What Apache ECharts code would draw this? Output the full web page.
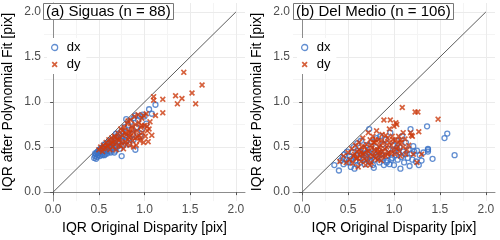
<!DOCTYPE html>
<html><head><meta charset="utf-8">
<script src="https://cdn.jsdelivr.net/npm/echarts@6/dist/echarts.min.js"></script>
<style>html,body{margin:0;padding:0;background:#fff}#c{width:500px;height:240px}</style>
</head><body><div id="c"></div>
<script>
const tickValues = [0, 0.5, 1.0, 1.5, 2.0];
const minorValues = [0.25, 0.75, 1.25, 1.75];
const panelTitles = ['(a) Siguas (n = 88)', '(b) Del Medio (n = 106)'];
const seriesNames = ['dx', 'dy'];
const diagonal = [[0, 0], [2, 2]];

const siguasDx = [[0.45,0.38],[0.46,0.40],[0.47,0.42],[0.48,0.39],[0.48,0.44],[0.49,0.41],[0.50,0.43],[0.50,0.46],[0.51,0.40],[0.52,0.44],[0.52,0.48],[0.53,0.42],[0.54,0.46],[0.55,0.44],[0.55,0.50],[0.56,0.41],[0.57,0.47],[0.58,0.45],[0.58,0.52],[0.59,0.43],[0.60,0.48],[0.60,0.55],[0.61,0.46],[0.62,0.50],[0.63,0.44],[0.63,0.57],[0.64,0.52],[0.65,0.48],[0.66,0.55],[0.67,0.60],[0.68,0.46],[0.68,0.52],[0.69,0.58],[0.70,0.50],[0.70,0.62],[0.72,0.55],[0.72,0.65],[0.73,0.48],[0.74,0.60],[0.75,0.40],[0.75,0.68],[0.76,0.57],[0.77,0.52],[0.78,0.72],[0.79,0.63],[0.80,0.81],[0.80,0.56],[0.81,0.66],[0.82,0.74],[0.83,0.53],[0.84,0.60],[0.85,0.78],[0.86,0.70],[0.87,0.64],[0.88,0.58],[0.88,0.82],[0.90,0.47],[0.90,0.85],[0.91,0.72],[0.92,0.66],[0.93,0.80],[0.95,0.84],[0.96,0.62],[0.97,0.70],[0.98,0.86],[1.00,0.84],[1.02,0.76],[1.05,0.92],[1.08,0.87],[1.12,0.97],[0.46,0.43],[0.47,0.37],[0.49,0.45],[0.51,0.47],[0.53,0.49],[0.54,0.41],[0.56,0.53],[0.57,0.42],[0.59,0.50],[0.61,0.53],[0.62,0.45],[0.64,0.58],[0.66,0.50],[0.67,0.44],[0.71,0.56],[0.74,0.52],[0.69,0.65],[0.77,0.62]];
const siguasDy = [[0.50,0.47],[0.52,0.50],[0.54,0.45],[0.55,0.52],[0.57,0.49],[0.58,0.55],[0.60,0.51],[0.61,0.58],[0.62,0.47],[0.63,0.54],[0.64,0.60],[0.65,0.50],[0.66,0.56],[0.67,0.62],[0.68,0.53],[0.69,0.47],[0.70,0.58],[0.71,0.65],[0.72,0.52],[0.73,0.60],[0.74,0.70],[0.75,0.55],[0.76,0.63],[0.77,0.48],[0.78,0.72],[0.79,0.56],[0.80,0.53],[0.80,0.64],[0.81,0.76],[0.82,0.58],[0.83,0.68],[0.84,0.52],[0.85,0.62],[0.85,0.80],[0.86,0.73],[0.87,0.57],[0.88,0.66],[0.89,0.84],[0.90,0.60],[0.90,0.75],[0.91,0.52],[0.92,0.68],[0.93,0.86],[0.94,0.63],[0.95,0.57],[0.96,0.72],[0.97,0.82],[0.98,0.66],[0.99,0.55],[1.00,0.74],[1.01,0.62],[1.02,0.87],[1.03,0.73],[1.04,0.56],[1.05,0.70],[1.06,0.78],[1.08,0.63],[1.10,1.06],[1.10,1.02],[1.12,0.85],[1.20,1.03],[1.20,0.88],[1.34,1.07],[1.36,0.98],[1.41,1.04],[1.43,1.33],[1.52,1.10],[1.56,0.98],[1.63,1.19],[0.76,0.68],[0.82,0.79],[0.87,0.70],[0.94,0.77],[0.99,0.85],[0.79,0.66],[0.84,0.66],[0.72,0.58],[0.68,0.61],[0.96,0.60],[1.03,0.68],[0.88,0.50],[0.92,0.61],[0.74,0.51],[0.83,0.61],[0.97,0.74],[0.65,0.55],[0.59,0.52],[0.55,0.48]];
const medioDx = [[0.35,0.30],[0.40,0.24],[0.42,0.35],[0.44,0.38],[0.45,0.31],[0.46,0.42],[0.48,0.36],[0.49,0.45],[0.50,0.33],[0.52,0.40],[0.53,0.28],[0.54,0.37],[0.55,0.44],[0.56,0.50],[0.57,0.26],[0.58,0.35],[0.59,0.41],[0.60,0.30],[0.60,0.54],[0.61,0.46],[0.62,0.38],[0.63,0.33],[0.64,0.57],[0.65,0.42],[0.66,0.36],[0.67,0.48],[0.68,0.31],[0.69,0.40],[0.70,0.52],[0.71,0.37],[0.72,0.44],[0.73,0.70],[0.73,0.34],[0.74,0.48],[0.75,0.40],[0.76,0.56],[0.77,0.30],[0.78,0.43],[0.78,0.27],[0.79,0.36],[0.80,0.50],[0.81,0.60],[0.82,0.39],[0.83,0.46],[0.84,0.33],[0.85,0.62],[0.86,0.42],[0.87,0.37],[0.88,0.53],[0.89,0.30],[0.90,0.45],[0.91,0.58],[0.92,0.40],[0.93,0.35],[0.94,0.48],[0.95,0.31],[0.96,0.66],[0.97,0.43],[0.98,0.38],[0.99,0.52],[1.00,0.30],[1.01,0.46],[1.02,0.41],[1.03,0.57],[1.04,0.36],[1.05,0.44],[1.06,0.50],[1.07,0.26],[1.08,0.39],[1.09,0.62],[1.10,0.45],[1.11,0.33],[1.12,0.42],[1.13,0.55],[1.15,0.38],[1.16,0.47],[1.17,0.29],[1.18,0.70],[1.19,0.43],[1.20,0.36],[1.21,0.51],[1.22,0.45],[1.24,0.34],[1.25,0.46],[1.27,0.30],[1.28,0.41],[1.30,0.35],[1.32,0.44],[1.36,0.73],[1.37,0.45],[1.37,0.47],[1.37,0.48],[1.42,0.37],[1.55,0.60],[1.58,0.65],[1.66,0.41],[0.51,0.35],[0.57,0.39],[0.63,0.45],[0.69,0.43],[0.75,0.35],[0.80,0.41],[0.86,0.38],[0.92,0.33],[0.97,0.36],[1.03,0.49]];
const medioDy = [[0.41,0.34],[0.45,0.40],[0.48,0.33],[0.50,0.44],[0.52,0.36],[0.54,0.48],[0.55,0.32],[0.57,0.42],[0.58,0.52],[0.59,0.37],[0.60,0.45],[0.61,0.28],[0.62,0.55],[0.63,0.40],[0.64,0.34],[0.65,0.50],[0.66,0.60],[0.67,0.43],[0.68,0.37],[0.69,0.30],[0.70,0.53],[0.71,0.46],[0.72,0.66],[0.73,0.40],[0.74,0.58],[0.75,0.33],[0.76,0.49],[0.77,0.62],[0.78,0.43],[0.79,0.55],[0.80,0.38],[0.81,0.68],[0.82,0.47],[0.83,0.58],[0.84,0.41],[0.85,0.52],[0.86,0.35],[0.87,0.64],[0.88,0.45],[0.89,0.80],[0.90,0.55],[0.91,0.40],[0.92,0.50],[0.93,0.60],[0.94,0.44],[0.95,0.70],[0.96,0.80],[0.97,0.52],[0.98,0.62],[0.99,0.47],[1.00,0.73],[1.01,0.57],[1.02,0.77],[1.03,0.75],[1.04,0.50],[1.05,0.62],[1.06,0.45],[1.07,0.58],[1.08,0.55],[1.09,0.94],[1.10,0.66],[1.12,0.59],[1.14,0.47],[1.16,0.52],[1.18,0.66],[1.19,0.63],[1.20,0.62],[1.21,0.42],[1.23,0.89],[1.25,0.33],[1.26,0.89],[1.27,0.67],[1.30,0.42],[1.48,0.81],[0.56,0.40],[0.62,0.47],[0.66,0.42],[0.68,0.50],[0.70,0.35],[0.72,0.45],[0.74,0.30],[0.75,0.52],[0.77,0.40],[0.79,0.47],[0.80,0.58],[0.82,0.36],[0.83,0.44],[0.85,0.45],[0.86,0.57],[0.88,0.40],[0.90,0.48],[0.91,0.63],[0.93,0.42],[0.95,0.55],[0.97,0.43],[0.99,0.58],[1.01,0.42],[1.03,0.48],[1.05,0.55],[1.07,0.40],[1.10,0.50],[1.13,0.42],[0.78,0.55],[0.84,0.50],[0.60,0.38],[0.64,0.44]];

const panelData = [[siguasDx, siguasDy], [medioDx, medioDy]];
const BLUE = '#3b72c6', RED = '#cc3a0c';
const FONT = 'Liberation Sans, Arial, sans-serif';
const XSYM = 'path://M0,2L2,0L5,3L8,0L10,2L7,5L10,8L8,10L5,7L2,10L0,8L3,5Z';

const grids = [
  {left: 43, right: 255, top: 3, bottom: 36},
  {left: 293, right: 5, top: 3, bottom: 36}
];

const xAxes = [], yAxes = [], series = [], titles = [], legends = [];
const fmt = v => v.toFixed(1);
grids.forEach((g, i) => {
  const major = (dim) => ({
    type: 'value', gridIndex: i, min: -0.1, max: 2.1,
    name: dim === 'x' ? 'IQR Original Disparity [pix]' : 'IQR after Polynomial Fit [pix]',
    nameLocation: 'middle', nameGap: dim === 'x' ? 18 : 29,
    nameTextStyle: {fontFamily: FONT, fontSize: 14, color: '#000'},
    axisLine: {show: true, lineStyle: {color: '#8c8c8c', width: 1}},
    axisTick: {show: true, length: 3, lineStyle: {color: '#555'}, customValues: tickValues},
    axisLabel: {customValues: tickValues, formatter: fmt, fontFamily: FONT, fontSize: 12, color: '#4d4d4d', margin: 3},
    splitLine: {show: true, lineStyle: {color: '#ebebeb', width: 1}},
    z: 1
  });
  const minor = () => ({
    type: 'value', gridIndex: i, min: -0.1, max: 2.1,
    axisLine: {show: false}, axisLabel: {show: false},
    axisTick: {show: false, customValues: minorValues},
    splitLine: {show: true, lineStyle: {color: '#f4f4f4', width: 1}},
    z: 0
  });
  xAxes.push(major('x'), minor());
  yAxes.push(major('y'), minor());
  const xi = i * 2, yi = i * 2;
  series.push({
    type: 'line', xAxisIndex: xi, yAxisIndex: yi, data: diagonal, symbol: 'none', silent: true,
    lineStyle: {color: '#4a4a4a', width: 0.9}, z: 2
  });
  series.push({
    name: seriesNames[0], type: 'scatter', xAxisIndex: xi, yAxisIndex: yi, data: panelData[i][0],
    symbol: 'circle', symbolSize: 5,
    itemStyle: {color: 'rgba(255,255,255,0)', borderColor: BLUE, borderWidth: 1.3}, z: 3
  });
  series.push({
    name: seriesNames[1], type: 'scatter', xAxisIndex: xi, yAxisIndex: yi, data: panelData[i][1],
    symbol: XSYM, symbolSize: 6,
    itemStyle: {color: RED}, z: 3
  });
  titles.push({
    text: panelTitles[i], left: g.left, top: g.top,
    padding: [1, 3, 1, 3], borderColor: '#777', borderWidth: 1, backgroundColor: '#fff',
    textStyle: {fontFamily: FONT, fontSize: 15, fontWeight: 'normal', color: '#000'}
  });
  legends.push({
    orient: 'vertical', left: g.left + 4, top: 38, itemGap: 4,
    backgroundColor: '#fff', padding: [3, 6, 3, 4],
    itemWidth: 6, itemHeight: 6,
    textStyle: {fontFamily: FONT, fontSize: 13, color: '#000', padding: [0, 0, 0, 4]},
    data: [
      {name: seriesNames[0], icon: 'circle', itemStyle: {color: 'rgba(255,255,255,0)', borderColor: BLUE, borderWidth: 1.3}},
      {name: seriesNames[1], icon: XSYM, itemStyle: {color: RED}}
    ]
  });
});

const chart = echarts.init(document.getElementById('c'), null, {renderer: 'canvas'});
chart.setOption({
  animation: false, backgroundColor: '#fff',
  grid: grids, xAxis: xAxes, yAxis: yAxes, series: series,
  title: titles, legend: legends
});
</script></body></html>
